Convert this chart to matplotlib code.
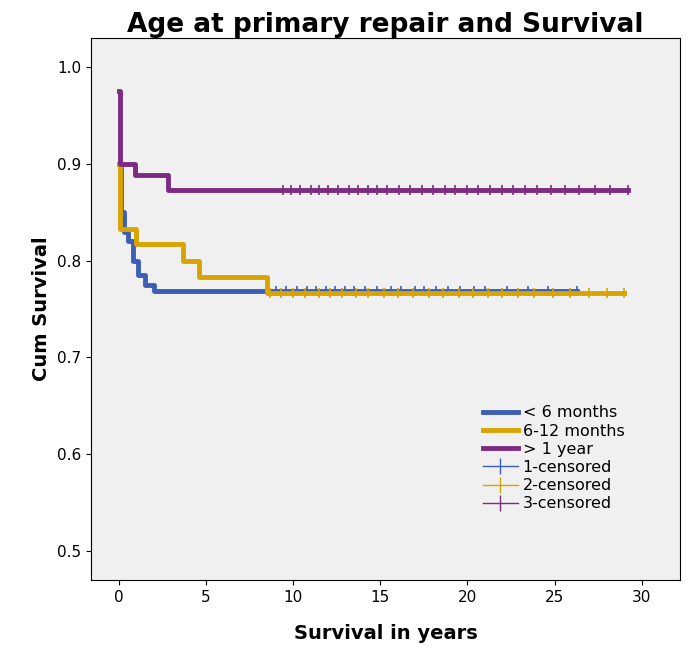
import matplotlib.pyplot as plt
from matplotlib.lines import Line2D

# event times (years) and survival after each step
t1 = [0, 0.1, 0.3, 0.5, 0.8, 1.1, 1.5, 2.0]
s1 = [0.90, 0.85, 0.83, 0.82, 0.80, 0.785, 0.775, 0.769]
c1 = [9.0, 9.6, 10.2, 10.8, 11.3, 11.9, 12.4, 13.0, 13.5, 14.1, 14.8, 15.6, 16.2,
      17.0, 17.5, 18.2, 18.9, 19.6, 20.4, 21.0, 22.3, 23.5, 24.6, 26.3]
t2 = [0, 0.08, 1.0, 3.7, 4.6, 8.5]
s2 = [0.90, 0.833, 0.817, 0.800, 0.783, 0.767]
c2 = [8.7, 9.3, 10.0, 10.7, 11.5, 12.1, 12.8, 13.6, 14.3, 15.2, 16.0, 16.9, 17.8,
      18.6, 19.5, 20.3, 21.2, 22.0, 22.9, 23.8, 24.9, 25.9, 27.0, 28.0, 29.0]
t3 = [0, 0.05, 0.95, 2.8]
s3 = [0.975, 0.90, 0.888, 0.873]
c3 = [9.4, 9.9, 10.4, 11.0, 11.5, 12.0, 12.6, 13.2, 13.7, 14.3, 14.8, 15.4, 16.1,
      16.7, 17.4, 18.0, 18.7, 19.3, 20.0, 20.6, 21.3, 22.0, 22.6, 23.3, 24.0,
      24.8, 25.6, 26.4, 27.3, 28.2, 29.2]

blue, gold, purple = '#3c5fb5', '#d9a400', '#7d2b82'

fig = plt.figure(figsize=(6.9, 6.6), dpi=100)
ax = fig.add_axes([91/690, 80/660, 589/690, 542/660])
ax.set_facecolor('#f0f0f0')

for t, s, c, col in [(t1, s1, c1, blue), (t2, s2, c2, gold), (t3, s3, c3, purple)]:
    end = max(c)
    ax.step(t + [end], s + [s[-1]], where='post', color=col, lw=3.5)
    ax.plot(c, [s[-1]] * len(c), ls='none', marker='|', ms=7, mew=1.2, color=col)

ax.set_xlim(-1.6, 32.2)
ax.set_ylim(0.47, 1.03)
ax.set_xticks([0, 5, 10, 15, 20, 25, 30])
ax.set_yticks([0.5, 0.6, 0.7, 0.8, 0.9, 1.0])
ax.set_yticklabels(['0.5', '0.6', '0.7', '0.8', '0.9', '1.0'])
ax.tick_params(labelsize=11)
ax.set_xlabel('Survival in years', fontsize=14, fontweight='bold', labelpad=14)
ax.set_ylabel('Cum Survival', fontsize=14, fontweight='bold')
ax.set_title('Age at primary repair and Survival', fontsize=19, fontweight='bold', pad=2)

handles = [Line2D([], [], color=blue, lw=3.5),
           Line2D([], [], color=gold, lw=3.5),
           Line2D([], [], color=purple, lw=3.5),
           Line2D([], [], color=blue, lw=1, marker='|', ms=12),
           Line2D([], [], color=gold, lw=1, marker='|', ms=12),
           Line2D([], [], color=purple, lw=1, marker='|', ms=12)]
labels = ['< 6 months', '6-12 months', '> 1 year', '1-censored', '2-censored', '3-censored']
ax.legend(handles, labels, loc='lower right', bbox_to_anchor=(0.93, 0.1), frameon=False,
          fontsize=11.5, handlelength=2.2, handletextpad=0.3, labelspacing=0.2)

plt.savefig('out.png')
